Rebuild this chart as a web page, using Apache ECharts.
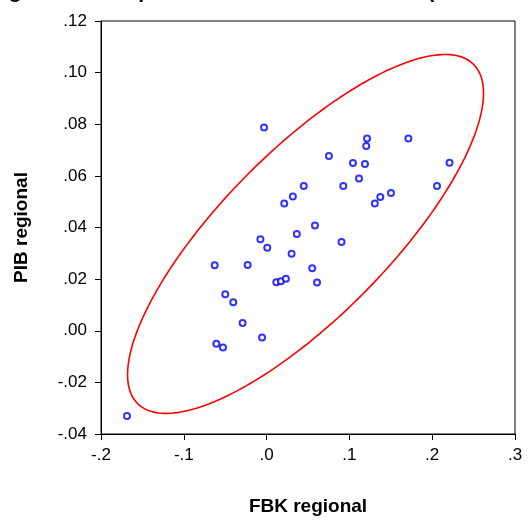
<!DOCTYPE html>
<html><head><meta charset="utf-8">
<script src="https://cdn.jsdelivr.net/npm/echarts@6/dist/echarts.min.js"></script>
<style>html,body{margin:0;padding:0;background:#fff}#c{width:528px;height:521px}</style>
</head><body><div id="c"></div>
<script>
// FBK regional (x) values
var fbk = [-0.1686,-0.0031,-0.0627,-0.0607,-0.0527,-0.0499,-0.0403,-0.0290,-0.0229,-0.0075,-0.0055,0.0008,0.0117,0.0172,0.0233,0.0213,0.0302,0.0317,0.0365,0.0449,0.0551,0.0584,0.0609,0.0753,0.0905,0.0926,0.1043,0.1116,0.1188,0.1203,0.1213,0.1307,0.1373,0.1502,0.1712,0.2058,0.2209];
// PIB regional (y) values
var pib = [-0.0330,0.0787,0.0254,-0.0050,-0.0065,0.0141,0.0110,0.0030,0.0255,0.0354,-0.0026,0.0322,0.0188,0.0192,0.0201,0.0493,0.0298,0.0520,0.0375,0.0561,0.0242,0.0408,0.0187,0.0677,0.0344,0.0561,0.0650,0.0590,0.0646,0.0716,0.0745,0.0493,0.0518,0.0534,0.0745,0.0561,0.0651];
var xTicks = [-0.2,-0.1,0,0.1,0.2,0.3];
var yTicks = [-0.04,-0.02,0,0.02,0.04,0.06,0.08,0.10,0.12];
var ellipseAlpha = 0.05; // 95% confidence ellipse

// confidence ellipse from sample mean and covariance (F-based radius)
function ellipse(xs, ys, alpha, n){
  var N = xs.length, mx=0,my=0;
  for (var i=0;i<N;i++){mx+=xs[i];my+=ys[i];}
  mx/=N;my/=N;
  var sxx=0,syy=0,sxy=0;
  for (i=0;i<N;i++){var dx=xs[i]-mx,dy=ys[i]-my;sxx+=dx*dx;syy+=dy*dy;sxy+=dx*dy;}
  sxx/=(N-1);syy/=(N-1);sxy/=(N-1);
  var df2 = N-2;
  var F = (df2/2)*(Math.pow(alpha,-2/df2)-1);
  var c2 = 2*(N-1)/(N-2)*F;
  var a=Math.sqrt(sxx), b=sxy/a, d=Math.sqrt(syy-b*b), k=Math.sqrt(c2);
  var pts=[];
  for (i=0;i<=n;i++){
    var t=2*Math.PI*i/n, u=Math.cos(t)*k, v=Math.sin(t)*k;
    pts.push([mx+a*u, my+b*u+d*v]);
  }
  return pts;
}
var ell = ellipse(fbk, pib, ellipseAlpha, 240);
var pts = fbk.map(function(x,i){return [x,pib[i]];});

function fmt(v,dec){
  var s = Math.abs(v) < 1e-9 ? (0).toFixed(dec) : v.toFixed(dec);
  return s.replace(/^(-?)0\./,'$1.');
}
var FF = '"Liberation Sans", Arial, sans-serif';
var chart = echarts.init(document.getElementById('c'));
chart.setOption({
  animation:false,
  backgroundColor:'#fff',
  graphic:[{type:'text', x:-24, y:3, style:{text:'Diagrama de dispersión de FBK frente al PIB (tasas medias)', font:'bold 21px "Liberation Sans", Arial, sans-serif', fill:'#000', verticalAlign:'bottom', align:'left'}}],
  grid:{left:101, right:13, top:21, bottom:81, show:true, borderColor:'#000', borderWidth:1},
  xAxis:{type:'value', min:-0.2, max:0.3, interval:0.1,
    name:'FBK regional', nameLocation:'middle', nameGap:63,
    nameTextStyle:{fontFamily:FF, fontWeight:'bold', fontSize:19, color:'#000'},
    axisLine:{show:true, onZero:false, lineStyle:{color:'#000'}},
    axisTick:{show:true, length:6, lineStyle:{color:'#000'}},
    axisLabel:{fontFamily:FF, fontSize:17, color:'#000', margin:13, formatter:function(v){return fmt(v,1);}},
    splitLine:{show:false}},
  yAxis:{type:'value', min:-0.04, max:0.12, interval:0.02,
    name:'PIB regional', nameLocation:'middle', nameGap:70, nameRotate:90,
    nameTextStyle:{fontFamily:FF, fontWeight:'bold', fontSize:19, color:'#000'},
    axisLine:{show:true, onZero:false, lineStyle:{color:'#000'}},
    axisTick:{show:true, length:6, lineStyle:{color:'#000'}},
    axisLabel:{fontFamily:FF, fontSize:17, color:'#000', margin:14, formatter:function(v){return fmt(v,2);}},
    splitLine:{show:false}},
  series:[
    {type:'line', data:ell, showSymbol:false, smooth:false, lineStyle:{color:'#ff0000', width:1.6}, silent:true, z:2},
    {type:'scatter', data:pts, symbol:'circle', symbolSize:6, itemStyle:{color:'#fff', borderColor:'#0000ff', borderWidth:2}, z:3}
  ]
});
</script></body></html>
